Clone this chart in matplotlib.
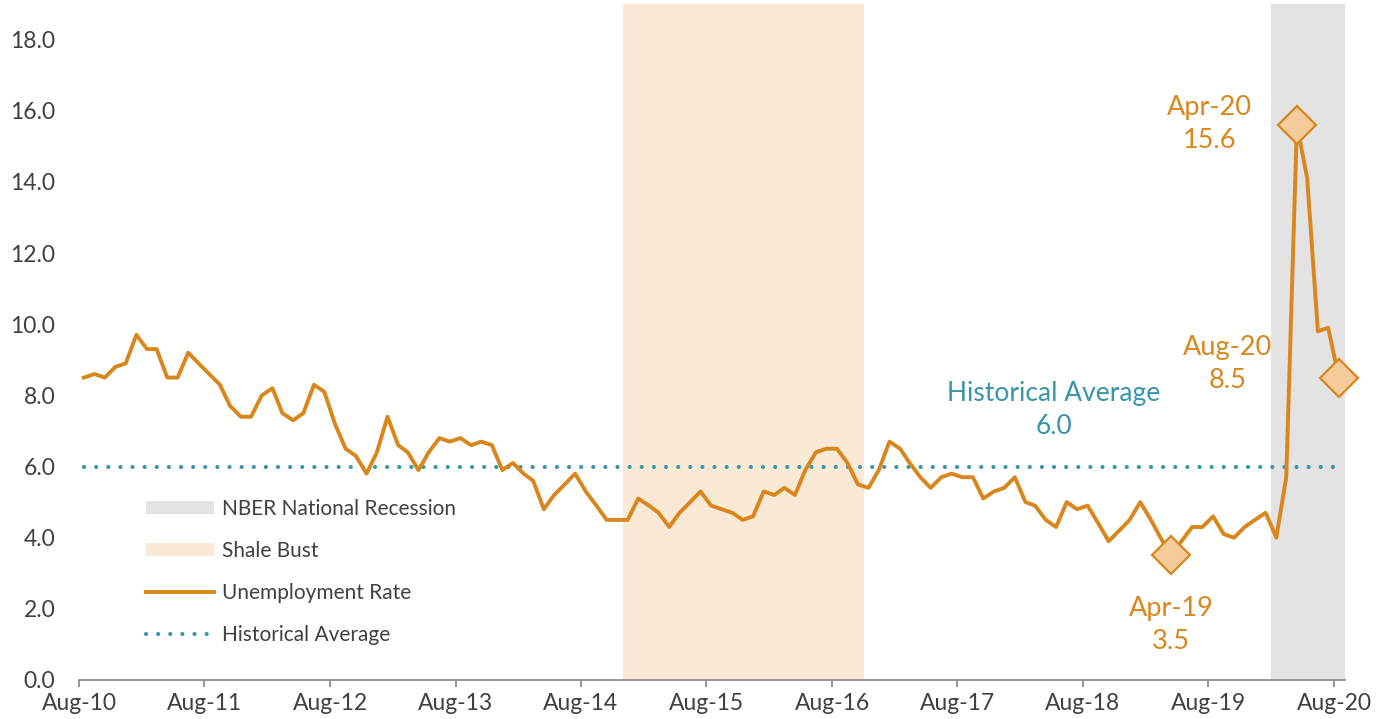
import matplotlib
matplotlib.use('Agg')
import matplotlib.pyplot as plt
import matplotlib.dates as mdates
from matplotlib.patches import Patch
from matplotlib.lines import Line2D
import pandas as pd

# monthly unemployment rate, Aug-10 .. Aug-20
startMonth = '2010-08-01'
unemploymentRate = [
    8.5, 8.6, 8.5, 8.8, 8.9, 9.7, 9.3, 9.3, 8.5, 8.5, 9.2, 8.9,
    8.6, 8.3, 7.7, 7.4, 7.4, 8.0, 8.2, 7.5, 7.3, 7.5, 8.3, 8.1,
    7.2, 6.5, 6.3, 5.8, 6.4, 7.4, 6.6, 6.4, 5.9, 6.4, 6.8, 6.7,
    6.8, 6.6, 6.7, 6.6, 5.9, 6.1, 5.8, 5.6, 4.8, 5.2, 5.5, 5.8,
    5.3, 4.9, 4.5, 4.5, 4.5, 5.1, 4.9, 4.7, 4.3, 4.7, 5.0, 5.3,
    4.9, 4.8, 4.7, 4.5, 4.6, 5.3, 5.2, 5.4, 5.2, 5.9, 6.4, 6.5,
    6.5, 6.1, 5.5, 5.4, 5.9, 6.7, 6.5, 6.1, 5.7, 5.4, 5.7, 5.8,
    5.7, 5.7, 5.1, 5.3, 5.4, 5.7, 5.0, 4.9, 4.5, 4.3, 5.0, 4.8,
    4.9, 4.4, 3.9, 4.2, 4.5, 5.0, 4.5, 4.0, 3.5, 3.9, 4.3, 4.3,
    4.6, 4.1, 4.0, 4.3, 4.5, 4.7, 4.0, 5.7, 15.6, 14.1, 9.8, 9.9,
    8.5,
]
historicalAverage = 6.0

shaleBust = ('2014-12-01', '2016-11-01')
recession = ('2020-02-01', '2020-09-02')

highlightMonths = ['2019-04-01', '2020-04-01', '2020-08-01']

orange = '#D9861C'
blue = '#3894A8'
textGray = '#404040'


def main():
    plt.rcParams['font.family'] = ['Lato', 'DejaVu Sans']

    months = pd.date_range(startMonth, periods=len(unemploymentRate), freq='MS')
    xPos = months + pd.Timedelta(days=14)
    rate = pd.Series(unemploymentRate, index=months)

    fig = plt.figure(figsize=(13.93, 7.19), dpi=100)
    ax = fig.add_axes([79 / 1393, 39 / 719, 1266 / 1393, 676 / 719])

    ax.axvspan(pd.Timestamp(shaleBust[0]), pd.Timestamp(shaleBust[1]),
               color='#F9E9D5', lw=0, zorder=0)
    ax.axvspan(pd.Timestamp(recession[0]), pd.Timestamp(recession[1]),
               color='#E3E3E3', lw=0, zorder=0)

    ax.plot(xPos, [historicalAverage] * len(xPos), color=blue, lw=3.0,
            linestyle=(0, (0.01, 2.9)), dash_capstyle='round', zorder=2)
    ax.plot(xPos, unemploymentRate, color=orange, lw=2.8, zorder=3)

    hl = pd.to_datetime(highlightMonths)
    ax.plot(hl + pd.Timedelta(days=14), rate.loc[hl].values, linestyle='none',
            marker='D', ms=19, mfc='#F5CB9B', mec=orange, mew=1.6,
            zorder=4, clip_on=False)

    # labels next to the highlighted points
    offsets = [(0, -50), (-63, 1), (-80, 10)]
    for m, off in zip(hl, offsets):
        val = rate.loc[m]
        ax.annotate(m.strftime('%b-%y') + '\n' + '%.1f' % val,
                    xy=(m + pd.Timedelta(days=14), val), xytext=off,
                    textcoords='offset points', ha='center', va='center',
                    color=orange, fontsize=19.5, linespacing=1.4)

    ax.annotate('Historical Average\n%.1f' % historicalAverage,
                xy=(pd.Timestamp('2018-05-08'), historicalAverage),
                xytext=(0, 41), textcoords='offset points', ha='center',
                va='center', color=blue, fontsize=19, linespacing=1.4)

    ax.set_xlim(pd.Timestamp(startMonth), pd.Timestamp(recession[1]))
    ax.set_ylim(0, 19)
    ax.set_yticks(range(0, 19, 2))
    ax.set_yticklabels(['%.1f' % v for v in range(0, 19, 2)])
    ax.set_xticks(pd.date_range(startMonth, periods=11, freq='12MS'))
    ax.xaxis.set_major_formatter(mdates.DateFormatter('%b-%y'))

    for s in ['top', 'right', 'left']:
        ax.spines[s].set_visible(False)
    ax.spines['bottom'].set_color('#868686')
    ax.spines['bottom'].set_linewidth(1.2)
    ax.tick_params(axis='y', length=0, pad=17, labelsize=16.5, labelcolor=textGray)
    ax.tick_params(axis='x', direction='out', length=5, width=1.2,
                   color='#868686', pad=4, labelsize=16.5, labelcolor=textGray)

    handles = [
        Patch(facecolor='#E3E3E3', edgecolor='none', label='NBER National Recession'),
        Patch(facecolor='#F9E9D5', edgecolor='none', label='Shale Bust'),
        Line2D([], [], color=orange, lw=2.8, label='Unemployment Rate'),
        Line2D([], [], color=blue, lw=3.0, linestyle=(0, (0.01, 2.9)),
               dash_capstyle='round', label='Historical Average'),
    ]
    leg = fig.legend(handles=handles, loc='upper left',
                     bbox_to_anchor=(146 / 1393, 1 - 499 / 719),
                     frameon=False, fontsize=15, handlelength=3.27,
                     handleheight=0.58, handletextpad=0.39, labelspacing=1.05,
                     borderpad=0, borderaxespad=0)
    for t in leg.get_texts():
        t.set_color(textGray)

    fig.savefig('out.png', dpi=100)


if __name__ == '__main__':
    main()
